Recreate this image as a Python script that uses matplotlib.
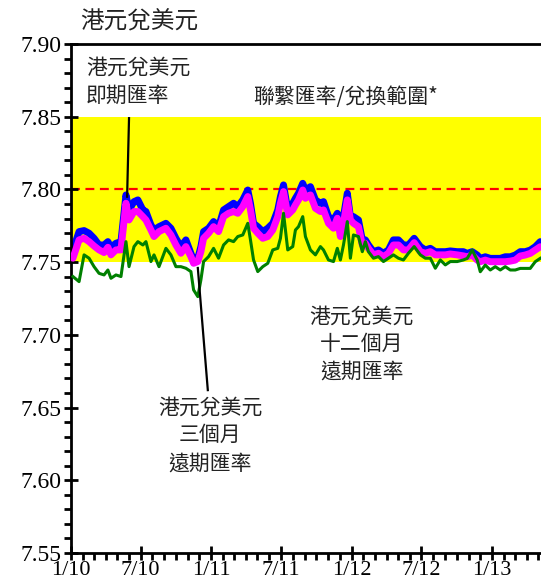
import matplotlib
matplotlib.use("Agg")
import matplotlib.pyplot as plt
import matplotlib.dates as mdates
import pandas as pd

CJK = ["Noto Sans CJK TC", "DejaVu Sans"]
SERIF = ["Liberation Serif", "DejaVu Serif"]

# -- data (HKD per USD) -------------------------------------------------------
dates = [
    "2010-01-06", "2010-01-22", "2010-02-04", "2010-02-17", "2010-03-02", "2010-03-15",
    "2010-03-28", "2010-04-07", "2010-04-15", "2010-04-28", "2010-05-11", "2010-05-24",
    "2010-06-01", "2010-06-14", "2010-06-24", "2010-07-07", "2010-07-15", "2010-07-28",
    "2010-08-05", "2010-08-18", "2010-09-05", "2010-09-18", "2010-10-01", "2010-10-14",
    "2010-10-27", "2010-11-09", "2010-11-16", "2010-11-27", "2010-12-05", "2010-12-12",
    "2010-12-25", "2011-01-07", "2011-01-20", "2011-02-02", "2011-02-15", "2011-02-28",
    "2011-03-11", "2011-03-24", "2011-04-06", "2011-04-13", "2011-04-21", "2011-05-02",
    "2011-05-15", "2011-05-28", "2011-06-10", "2011-06-23", "2011-06-30", "2011-07-08",
    "2011-07-19", "2011-08-01", "2011-08-08", "2011-08-16", "2011-08-27", "2011-09-03",
    "2011-09-16", "2011-09-29", "2011-10-12", "2011-10-20", "2011-11-02", "2011-11-15",
    "2011-11-25", "2011-12-03", "2011-12-11", "2011-12-21", "2011-12-29", "2012-01-06",
    "2012-01-19", "2012-01-29", "2012-02-06", "2012-02-14", "2012-02-27", "2012-03-11",
    "2012-03-24", "2012-04-06", "2012-04-19", "2012-05-02", "2012-05-15", "2012-05-28",
    "2012-06-12", "2012-06-28", "2012-07-11", "2012-07-24", "2012-08-06", "2012-08-19",
    "2012-09-01", "2012-09-14", "2012-10-02", "2012-10-18", "2012-10-28", "2012-11-10",
    "2012-11-23", "2012-12-01", "2012-12-14", "2012-12-27", "2013-01-09", "2013-01-22",
    "2013-02-04", "2013-02-17", "2013-03-02", "2013-03-15", "2013-03-28", "2013-04-10",
    "2013-04-23", "2013-05-06",
]
spot = [
    7.7584, 7.7710, 7.7717, 7.7699, 7.7664, 7.7618, 7.7618, 7.7641, 7.7602, 7.7630,
    7.7641, 7.7962, 7.7859, 7.7916, 7.7928, 7.7859, 7.7848, 7.7756, 7.7721, 7.7744,
    7.7767, 7.7733, 7.7664, 7.7607, 7.7653, 7.7561, 7.7515, 7.7527, 7.7607, 7.7710,
    7.7733, 7.7779, 7.7744, 7.7859, 7.7882, 7.7905, 7.7882, 7.7928, 7.7996, 7.7905,
    7.7767, 7.7744, 7.7710, 7.7733, 7.7767, 7.7859, 7.7951, 7.8031, 7.7859, 7.7905,
    7.7939, 7.7974, 7.8042, 7.7996, 7.8019, 7.7928, 7.7905, 7.7916, 7.7813, 7.7790,
    7.7836, 7.7710, 7.7813, 7.7974, 7.7813, 7.7813, 7.7790, 7.7653, 7.7653, 7.7618,
    7.7572, 7.7584, 7.7561, 7.7584, 7.7653, 7.7653, 7.7618, 7.7618, 7.7664, 7.7607,
    7.7584, 7.7595, 7.7572, 7.7572, 7.7572, 7.7577, 7.7572, 7.7572, 7.7560, 7.7572,
    7.7549, 7.7526, 7.7537, 7.7526, 7.7526, 7.7526, 7.7537, 7.7537, 7.7549, 7.7572,
    7.7572, 7.7583, 7.7606, 7.7641,
]
fwd_3m = [
    7.7527, 7.7653, 7.7664, 7.7641, 7.7611, 7.7584, 7.7566, 7.7602, 7.7550, 7.7584,
    7.7584, 7.7905, 7.7790, 7.7848, 7.7848, 7.7813, 7.7790, 7.7721, 7.7676, 7.7710,
    7.7733, 7.7687, 7.7618, 7.7561, 7.7607, 7.7538, 7.7492, 7.7504, 7.7572, 7.7664,
    7.7699, 7.7744, 7.7710, 7.7813, 7.7836, 7.7848, 7.7836, 7.7882, 7.7951, 7.7859,
    7.7733, 7.7699, 7.7664, 7.7676, 7.7721, 7.7813, 7.7905, 7.7985, 7.7825, 7.7859,
    7.7893, 7.7928, 7.7996, 7.7939, 7.7962, 7.7870, 7.7848, 7.7859, 7.7767, 7.7733,
    7.7802, 7.7676, 7.7767, 7.7928, 7.7790, 7.7767, 7.7744, 7.7618, 7.7630, 7.7595,
    7.7550, 7.7561, 7.7538, 7.7561, 7.7618, 7.7618, 7.7584, 7.7584, 7.7634, 7.7572,
    7.7561, 7.7572, 7.7550, 7.7550, 7.7550, 7.7556, 7.7550, 7.7543, 7.7537, 7.7549,
    7.7514, 7.7503, 7.7514, 7.7503, 7.7503, 7.7503, 7.7503, 7.7507, 7.7514, 7.7542,
    7.7549, 7.7560, 7.7583, 7.7606,
]
fwd_12m = [
    7.7401, 7.7366, 7.7550, 7.7527, 7.7469, 7.7423, 7.7412, 7.7446, 7.7389, 7.7412,
    7.7401, 7.7641, 7.7469, 7.7607, 7.7641, 7.7618, 7.7641, 7.7504, 7.7550, 7.7469,
    7.7595, 7.7550, 7.7469, 7.7469, 7.7458, 7.7435, 7.7309, 7.7263, 7.7378, 7.7504,
    7.7538, 7.7595, 7.7527, 7.7618, 7.7653, 7.7641, 7.7676, 7.7687, 7.7767, 7.7653,
    7.7515, 7.7435, 7.7469, 7.7492, 7.7584, 7.7595, 7.7664, 7.7836, 7.7584, 7.7607,
    7.7721, 7.7744, 7.7813, 7.7676, 7.7584, 7.7550, 7.7607, 7.7584, 7.7515, 7.7504,
    7.7595, 7.7515, 7.7618, 7.7779, 7.7527, 7.7687, 7.7676, 7.7572, 7.7641, 7.7572,
    7.7527, 7.7538, 7.7504, 7.7527, 7.7550, 7.7527, 7.7515, 7.7561, 7.7607, 7.7550,
    7.7527, 7.7527, 7.7458, 7.7515, 7.7481, 7.7504, 7.7504, 7.7515, 7.7526, 7.7583,
    7.7514, 7.7434, 7.7480, 7.7446, 7.7469, 7.7446, 7.7469, 7.7446, 7.7446, 7.7457,
    7.7457, 7.7457, 7.7503, 7.7526,
]

band_low, band_high = 7.75, 7.85
convertibility_mid = 7.80
y_ticks = [7.55, 7.60, 7.65, 7.70, 7.75, 7.80, 7.85, 7.90]
x_tick_dates = ["2010-01-01", "2010-07-01", "2011-01-01", "2011-07-01",
                "2012-01-01", "2012-07-01", "2013-01-01"]
x_tick_labels = ["1/10", "7/10", "1/11", "7/11", "1/12", "7/12", "1/13"]

d = pd.to_datetime(dates)

fig = plt.figure(figsize=(5.41, 5.86), dpi=100)
ax = fig.add_axes([71 / 541, 33 / 586, 470 / 541, 509 / 586])

ax.axhspan(band_low, band_high, color="#ffff00", lw=0, zorder=0)
ax.axhline(convertibility_mid, color="#ff0000", ls=(0, (4, 2.5)), lw=1.6, zorder=1)

ax.plot(d, spot, color="#0000ff", lw=5, solid_capstyle="round", zorder=2)
ax.plot(d, fwd_3m, color="#ff00ff", lw=5, solid_capstyle="round", zorder=3)
ax.plot(d, fwd_12m, color="#008000", lw=2.2, zorder=4)

ax.set_xlim(pd.Timestamp("2010-01-01"), pd.Timestamp("2013-05-08"))
ax.set_ylim(7.55, 7.90)

ax.set_yticks(y_ticks)
ax.set_yticklabels([f"{v:.2f}" for v in y_ticks], family=SERIF, fontsize=17)
ax.set_yticks([7.55 + 0.01 * i for i in range(36)], minor=True)
ax.set_xticks(pd.to_datetime(x_tick_dates))
ax.set_xticklabels(x_tick_labels, family=SERIF, fontsize=16)
ax.xaxis.set_minor_locator(mdates.MonthLocator())

ax.tick_params(axis="both", which="major", direction="inout", length=10, width=2, colors="black")
ax.tick_params(axis="both", which="minor", direction="out", length=5, width=2)
ax.tick_params(axis="y", which="major", pad=2)
ax.tick_params(axis="x", which="major", pad=1)
for s in ["left", "bottom", "top"]:
    ax.spines[s].set_linewidth(2)
ax.spines["right"].set_visible(False)

# leader lines from labels to the curves
ax.plot(pd.to_datetime(["2010-06-01", "2010-05-27"]), [7.849, 7.795], color="black", lw=1.6, zorder=5)
ax.plot(pd.to_datetime(["2010-11-27", "2010-12-23"]), [7.746, 7.662], color="black", lw=1.6, zorder=5)

txt = dict(family=CJK, fontsize=15, color="#222222", linespacing=1.35)
ax.text(0.032, 0.975, "港元兌美元\n即期匯率", transform=ax.transAxes, ha="left", va="top", **txt)
ax.text(0.585, 0.896, "聯繫匯率/兌換範圍*", transform=ax.transAxes, ha="center", va="center", **txt)
ax.text(0.296, 0.308, "港元兌美元\n三個月\n遠期匯率", transform=ax.transAxes,
        ha="center", va="top", multialignment="center", **txt)
ax.text(0.619, 0.487, "港元兌美元\n十二個月\n遠期匯率", transform=ax.transAxes,
        ha="center", va="top", multialignment="center", **txt)

fig.text(80 / 541, 1 - 22 / 586, "港元兌美元", family=CJK, fontsize=17,
         color="#222222", ha="left", va="center")

fig.savefig("out.png", dpi=100)
